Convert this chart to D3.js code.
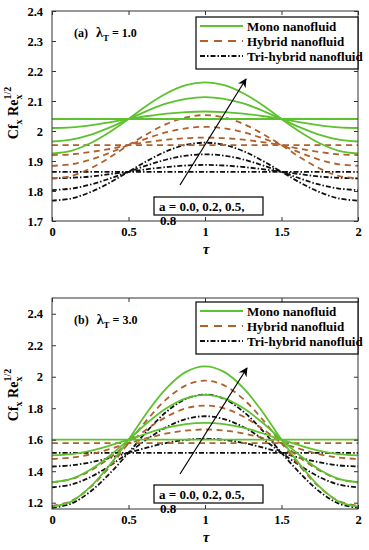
<!DOCTYPE html>
<html><head><meta charset="utf-8">
<script src="https://cdn.jsdelivr.net/npm/d3@7"></script>
<style>
body{margin:0;background:#fff;}
svg text{font-family:'Liberation Serif','Times New Roman',Times,'DejaVu Serif',serif !important;font-weight:bold;fill:#000;}
</style></head>
<body><svg id="chart" width="369" height="550"></svg>
<script>
const tau = [0,0.125,0.25,0.375,0.5,0.625,0.75,0.875,1,1.125,1.25,1.375,1.5,1.625,1.75,1.875,2];
const aLabels = ["0.0","0.2","0.5","0.8"];
const seriesNames = ["Mono nanofluid","Hybrid nanofluid","Tri-hybrid nanofluid"];

// Panel (a): lambda_T = 1.0
const aXTicks = [0,0.5,1,1.5,2];
const aYTicks = [1.7,1.8,1.9,2,2.1,2.2,2.3,2.4];
const monoA = [
 [2.04,2.04,2.04,2.04,2.04,2.04,2.04,2.04,2.04,2.04,2.04,2.04,2.04,2.04,2.04,2.04,2.04],
 [2.010,2.012,2.019,2.029,2.040,2.050,2.058,2.063,2.065,2.063,2.058,2.050,2.040,2.029,2.019,2.012,2.010],
 [1.965,1.971,1.987,2.011,2.040,2.068,2.092,2.107,2.113,2.107,2.092,2.068,2.040,2.011,1.987,1.971,1.965],
 [1.925,1.934,1.959,1.996,2.040,2.087,2.126,2.153,2.162,2.153,2.126,2.087,2.040,1.996,1.959,1.934,1.925]
];
const hybridA = [
 [1.953,1.953,1.953,1.953,1.953,1.953,1.953,1.953,1.953,1.953,1.953,1.953,1.953,1.953,1.953,1.953,1.953],
 [1.920,1.922,1.930,1.940,1.953,1.963,1.971,1.976,1.978,1.976,1.971,1.963,1.953,1.940,1.930,1.922,1.920],
 [1.884,1.889,1.904,1.927,1.953,1.976,1.996,2.009,2.014,2.009,1.996,1.976,1.953,1.927,1.904,1.889,1.884],
 [1.842,1.850,1.875,1.911,1.953,1.991,2.024,2.045,2.053,2.045,2.024,1.991,1.953,1.911,1.875,1.850,1.842]
];
const triA = [
 [1.864,1.864,1.864,1.864,1.864,1.864,1.864,1.864,1.864,1.864,1.864,1.864,1.864,1.864,1.864,1.864,1.864],
 [1.842,1.844,1.848,1.856,1.864,1.873,1.880,1.885,1.887,1.885,1.880,1.873,1.864,1.856,1.848,1.844,1.842],
 [1.803,1.808,1.821,1.841,1.864,1.886,1.905,1.918,1.922,1.918,1.905,1.886,1.864,1.841,1.821,1.808,1.803],
 [1.768,1.775,1.796,1.827,1.864,1.901,1.933,1.954,1.961,1.954,1.933,1.901,1.864,1.827,1.796,1.775,1.768]
];

// Panel (b): lambda_T = 3.0
const bXTicks = [0,0.5,1,1.5,2];
const bYTicks = [1.2,1.4,1.6,1.8,2,2.2,2.4];
const monoB = [
 [1.600,1.600,1.600,1.600,1.600,1.600,1.600,1.600,1.600,1.600,1.600,1.600,1.600,1.600,1.600,1.600,1.600],
 [1.500,1.508,1.529,1.562,1.600,1.641,1.676,1.699,1.707,1.699,1.676,1.641,1.600,1.562,1.529,1.508,1.500],
 [1.330,1.351,1.409,1.497,1.600,1.709,1.801,1.863,1.885,1.863,1.801,1.709,1.600,1.497,1.409,1.351,1.330],
 [1.175,1.207,1.300,1.437,1.600,1.778,1.929,2.031,2.066,2.031,1.929,1.778,1.600,1.437,1.300,1.207,1.175]
];
const hybridB = [
 [1.578,1.578,1.578,1.578,1.578,1.578,1.578,1.578,1.578,1.578,1.578,1.578,1.578,1.578,1.578,1.578,1.578],
 [1.478,1.486,1.507,1.540,1.578,1.611,1.640,1.658,1.665,1.658,1.640,1.611,1.578,1.540,1.507,1.486,1.478],
 [1.330,1.349,1.403,1.483,1.578,1.670,1.747,1.799,1.817,1.799,1.747,1.670,1.578,1.483,1.403,1.349,1.330],
 [1.180,1.210,1.297,1.426,1.578,1.730,1.859,1.945,1.975,1.945,1.859,1.730,1.578,1.426,1.297,1.210,1.180]
];
const triB = [
 [1.517,1.517,1.517,1.517,1.517,1.517,1.517,1.517,1.517,1.517,1.517,1.517,1.517,1.517,1.517,1.517,1.517],
 [1.430,1.437,1.456,1.484,1.517,1.551,1.580,1.599,1.606,1.599,1.580,1.551,1.517,1.484,1.456,1.437,1.430],
 [1.298,1.315,1.362,1.433,1.517,1.606,1.681,1.731,1.749,1.731,1.681,1.606,1.517,1.433,1.362,1.315,1.298],
 [1.167,1.194,1.270,1.383,1.517,1.659,1.779,1.859,1.887,1.859,1.779,1.659,1.517,1.383,1.270,1.194,1.167]
];

const styles = [
  {color:"#5cc22e", dash:null, width:1.8},
  {color:"#b0602c", dash:"6,4.5", width:1.8},
  {color:"#111", dash:"5,2,1.5,2", width:1.8}
];
const FONT = "'Liberation Serif','Times New Roman',Times,'DejaVu Serif',serif";

const svg = d3.select("#chart");

function panel(cfg){
  const {id, top, bottom, left, right, yDomain, yTicks, xTicks, series, label, lam, legY, arrow, boxY} = cfg;
  const g = svg.append("g");
  const x = d3.scaleLinear().domain([0,2]).range([left,right]);
  const y = d3.scaleLinear().domain(yDomain).range([bottom,top]);

  g.append("clipPath").attr("id","clip"+id).append("rect")
    .attr("x",left).attr("y",top).attr("width",right-left).attr("height",bottom-top);

  const line = d3.line().x((d,i)=>x(tau[i])).y(d=>y(d)).curve(d3.curveCatmullRom);
  const lg = g.append("g").attr("clip-path","url(#clip"+id+")");
  [2,1,0].forEach(s=>{
    series[s].forEach(arr=>{
      lg.append("path").attr("d",line(arr)).attr("fill","none")
        .attr("stroke",styles[s].color).attr("stroke-width",styles[s].width)
        .attr("stroke-dasharray",styles[s].dash);
    });
  });

  const fmt = d=>String(d);
  g.append("g").attr("transform",`translate(0,${bottom})`)
    .call(d3.axisBottom(x).tickValues(xTicks).tickFormat(fmt).tickSize(-4).tickPadding(6))
    .call(a=>{a.select(".domain").remove(); a.selectAll("text").attr("font-size",12.5);});
  g.append("g").attr("transform",`translate(0,${top})`)
    .call(d3.axisTop(x).tickValues(xTicks).tickFormat("").tickSize(-4))
    .call(a=>a.select(".domain").remove());
  g.append("g").attr("transform",`translate(${left},0)`)
    .call(d3.axisLeft(y).tickValues(yTicks).tickFormat(fmt).tickSize(-4).tickPadding(9))
    .call(a=>{a.select(".domain").remove(); a.selectAll("text").attr("font-size",12.5);});
  g.append("g").attr("transform",`translate(${right},0)`)
    .call(d3.axisRight(y).tickValues(yTicks).tickFormat("").tickSize(-4))
    .call(a=>a.select(".domain").remove());
  g.selectAll(".tick line").attr("stroke","#333");
  g.selectAll("g").attr("font-family",FONT);

  g.append("rect").attr("x",left).attr("y",top).attr("width",right-left).attr("height",bottom-top)
    .attr("fill","none").attr("stroke","#333").attr("stroke-width",1);

  g.append("text").attr("x",(left+right)/2+1).attr("y",bottom+33).attr("text-anchor","middle")
    .attr("font-size",15).attr("font-style","italic").text("τ");

  const yl = g.append("text").attr("transform",`translate(18,${cfg.ylabY}) rotate(-90)`)
    .attr("text-anchor","middle").attr("font-size",14);
  yl.append("tspan").text("Cf");
  yl.append("tspan").attr("font-size",10).attr("dy",4).text("x");
  yl.append("tspan").attr("dy",-4).text(" Re");
  yl.append("tspan").attr("font-size",10).attr("dy",4).text("x");
  yl.append("tspan").attr("font-size",10).attr("dx",-5).attr("dy",-11).text("1/2");

  const pl = g.append("text").attr("x",74).attr("y",top+26).attr("font-size",12);
  pl.append("tspan").text(label);
  pl.append("tspan").attr("dx",8).attr("font-size",14).text("λ");
  pl.append("tspan").attr("font-size",9).attr("dy",4).text("T");
  pl.append("tspan").attr("dy",-4).text(" = " + lam);

  const lx0 = 196, lx1 = 358;
  g.append("rect").attr("x",lx0).attr("y",legY).attr("width",lx1-lx0).attr("height",52)
    .attr("fill","#fff").attr("stroke","#000").attr("stroke-width",1.2);
  seriesNames.forEach((n,i)=>{
    const yy = legY + 9 + i*15;
    g.append("line").attr("x1",200).attr("x2",243).attr("y1",yy).attr("y2",yy)
      .attr("stroke",styles[i].color).attr("stroke-width",2.2)
      .attr("stroke-dasharray", i===1 ? "8,6" : styles[i].dash);
    g.append("text").attr("x",247).attr("y",yy+4.5).attr("font-size",13).text(n);
  });

  const [ax0,ay0,ax1,ay1] = arrow;
  g.append("line").attr("x1",ax0).attr("y1",ay0).attr("x2",ax1).attr("y2",ay1)
    .attr("stroke","#000").attr("stroke-width",1.2).attr("marker-end","url(#arr)");

  g.append("rect").attr("x",154).attr("y",boxY).attr("width",109).attr("height",18)
    .attr("fill","#fff").attr("stroke","#000").attr("stroke-width",1.2);
  g.append("text").attr("x",159).attr("y",boxY+14).attr("font-size",13)
    .text("a = " + aLabels.slice(0,3).join(", ") + ",");
  g.append("text").attr("x",160).attr("y",boxY+28).attr("font-size",13).text(aLabels[3]);
}

svg.append("defs").append("marker").attr("id","arr").attr("viewBox","0 0 10 10")
  .attr("refX",9).attr("refY",5).attr("markerWidth",9).attr("markerHeight",9)
  .attr("markerUnits","userSpaceOnUse").attr("orient","auto")
  .append("path").attr("d","M0,0L10,5L0,10L3,5Z").attr("fill","#000");

panel({id:"a", top:11, bottom:221, left:52, right:358, yDomain:[1.7,2.4], yTicks:aYTicks, xTicks:aXTicks,
  series:[monoA,hybridA,triA], label:"(a)", lam:"1.0", legY:17, arrow:[180,185,246,79], boxY:197, ylabY:113});
panel({id:"b", top:298, bottom:509, left:52, right:358, yDomain:[1.16,2.5], yTicks:bYTicks, xTicks:bXTicks,
  series:[monoB,hybridB,triB], label:"(b)", lam:"3.0", legY:302, arrow:[180,474,247,368], boxY:485, ylabY:395});
</script></body></html>
